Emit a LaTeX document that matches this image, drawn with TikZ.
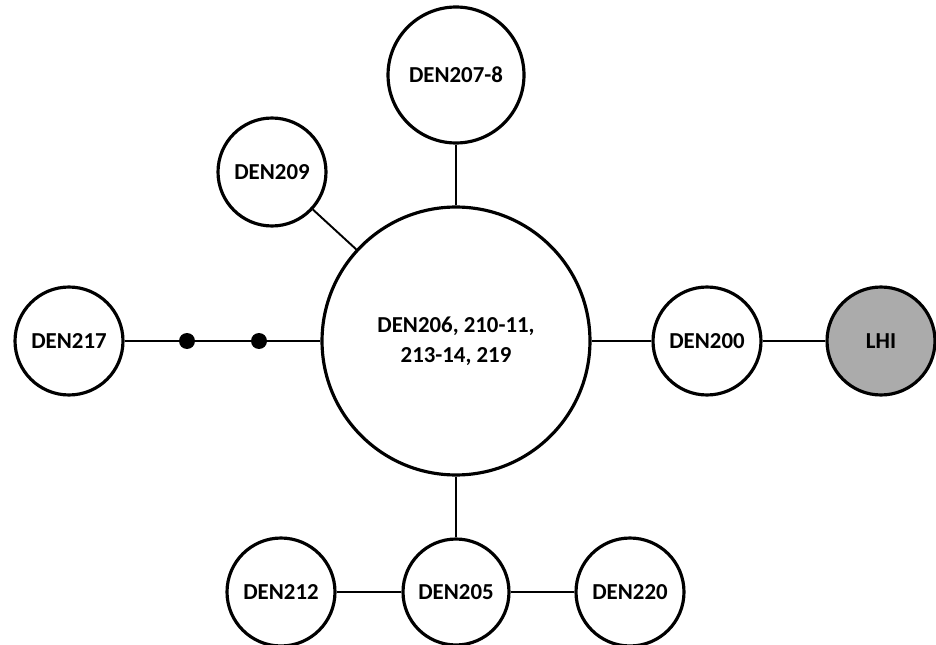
\documentclass[tikz,border=0pt]{standalone}
\usepackage{fontspec}
\setmainfont{Carlito}
\begin{document}
\begin{tikzpicture}[x=0.02cm,y=-0.02cm,
  hap/.style={circle,draw,line width=1.8pt,inner sep=0pt,minimum size=2.16cm,
    font=\fontsize{13}{17}\selectfont\bfseries,align=center},
  dot/.style={circle,fill,inner sep=0pt,minimum size=0.32cm},
  link/.style={line width=1.1pt}]
\useasboundingbox (0,0) rectangle (936,645);

% haplotypes
\node[hap,minimum size=5.36cm] (main) at (456,341) {DEN206, 210-11,\\213-14, 219};
\node[hap,minimum size=2.72cm] (d2078) at (456,75) {DEN207-8};
\node[hap] (d209) at (272,172) {DEN209};
\node[hap] (d217) at (69,341) {DEN217};
\node[hap] (d200) at (707,341) {DEN200};
\node[hap,fill=black!33] (lhi) at (881,341) {LHI};
\node[hap,minimum size=2.12cm] (d205) at (456,592) {DEN205};
\node[hap] (d212) at (281,592) {DEN212};
\node[hap] (d220) at (630,592) {DEN220};

% links
\draw[link] (main) -- (d2078);
\draw[link] (main) -- (d209);
\draw[link] (main) -- (d200);
\draw[link] (d200) -- (lhi);
\draw[link] (main) -- (d205);
\draw[link] (d205) -- (d212);
\draw[link] (d205) -- (d220);
\draw[link] (d217) -- (main);

% missing steps
\node[dot] (m1) at (187,341) {};
\node[dot] (m2) at (259,341) {};

\end{tikzpicture}
\end{document}
